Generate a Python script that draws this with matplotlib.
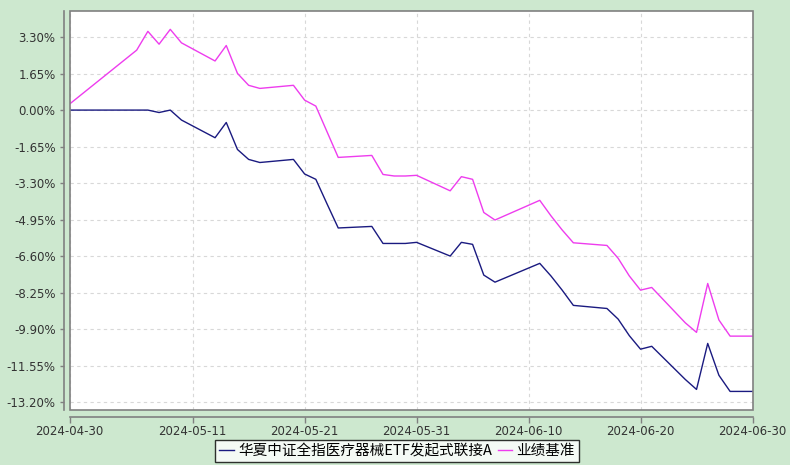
import pandas as pd
import matplotlib
matplotlib.use("Agg")
import matplotlib.pyplot as plt
import matplotlib.dates as mdates
from matplotlib.patches import Rectangle

plt.rcParams['font.family'] = ['DejaVu Sans', 'Noto Sans CJK SC']
plt.rcParams['axes.unicode_minus'] = False

dates = ['2024-04-30', '2024-05-06', '2024-05-07', '2024-05-08', '2024-05-09', '2024-05-10',
         '2024-05-13', '2024-05-14', '2024-05-15', '2024-05-16', '2024-05-17',
         '2024-05-20', '2024-05-21', '2024-05-22', '2024-05-23', '2024-05-24',
         '2024-05-27', '2024-05-28', '2024-05-29', '2024-05-30', '2024-05-31',
         '2024-06-03', '2024-06-04', '2024-06-05', '2024-06-06', '2024-06-07',
         '2024-06-11', '2024-06-12', '2024-06-13', '2024-06-14',
         '2024-06-17', '2024-06-18', '2024-06-19', '2024-06-20', '2024-06-21',
         '2024-06-24', '2024-06-25', '2024-06-26', '2024-06-27', '2024-06-28',
         '2024-06-30']

fund = [0.00, 0.00, 0.00, -0.11, 0.00, -0.45,
        -1.25, -0.56, -1.78, -2.23, -2.37,
        -2.23, -2.89, -3.13, -4.24, -5.33,
        -5.26, -6.03, -6.03, -6.03, -5.98,
        -6.60, -5.98, -6.07, -7.46, -7.78,
        -6.93, -7.50, -8.14, -8.83,
        -8.97, -9.45, -10.20, -10.81, -10.68,
        -12.18, -12.63, -10.55, -11.99, -12.72,
        -12.72]

bench = [0.27, 2.71, 3.56, 2.98, 3.65, 3.04,
         2.22, 2.92, 1.66, 1.12, 0.98,
         1.12, 0.45, 0.18, -0.98, -2.14,
         -2.05, -2.91, -2.98, -2.98, -2.95,
         -3.65, -3.01, -3.13, -4.63, -4.97,
         -4.08, -4.78, -5.42, -6.00,
         -6.12, -6.70, -7.50, -8.14, -8.02,
         -9.62, -10.05, -7.84, -9.49, -10.22,
         -10.22]

yticks = [3.30, 1.65, 0.00, -1.65, -3.30, -4.95, -6.60, -8.25, -9.90, -11.55, -13.20]
xticks = ['2024-04-30', '2024-05-11', '2024-05-21', '2024-05-31', '2024-06-10', '2024-06-20', '2024-06-30']

fund_name = "华夏中证全指医疗器械ETF发起式联接A"
bench_name = "业绩基准"

bg = '#cde8cf'
axis_gray = '#808080'
text_gray = '#333333'

x = pd.to_datetime(dates)

fig = plt.figure(figsize=(7.9, 4.65), dpi=100, facecolor=bg)
ax = fig.add_axes([69.5 / 790, 1 - 410 / 465, (752.5 - 69.5) / 790, (410 - 11) / 465])
ax.set_facecolor('white')

ax.plot(x, fund, color='#1a1a80', lw=1.0, label=fund_name, zorder=3)
ax.plot(x, bench, color='#ee3cee', lw=1.0, label=bench_name, zorder=3)

ax.set_xlim(pd.Timestamp('2024-04-30'), pd.Timestamp('2024-06-30'))
ax.set_ylim(-13.56, 4.48)

ax.set_yticks(yticks)
ax.set_yticklabels([f"{v:.2f}%" for v in yticks])
ax.set_xticks(pd.to_datetime(xticks))
ax.set_xticklabels(xticks)

ax.grid(True, color='#d8d8d8', lw=0.8, linestyle=(0, (3, 3)))
ax.set_axisbelow(True)

for s in ['top', 'right']:
    ax.spines[s].set_visible(False)
ax.spines['bottom'].set_position(('outward', 5))
ax.spines['left'].set_position(('outward', 4))
for s in ['bottom', 'left']:
    ax.spines[s].set_color(axis_gray)
    ax.spines[s].set_linewidth(1.2)

ax.add_patch(Rectangle((0, 0), 1, 1, transform=ax.transAxes, fill=False,
                       edgecolor=axis_gray, lw=1.2, clip_on=False, zorder=5))

ax.tick_params(axis='y', direction='out', length=3, width=1, color=axis_gray,
               labelsize=8.5, labelcolor=text_gray, pad=3)
ax.tick_params(axis='x', direction='out', length=4, width=1, color=axis_gray,
               labelsize=8.5, labelcolor=text_gray, pad=1.5)

leg = fig.legend(loc='center', bbox_to_anchor=(0.5026, 0.030), ncol=2,
                 frameon=True, fancybox=False, shadow=False,
                 handlelength=1.0, handletextpad=0.3, columnspacing=0.4,
                 borderpad=0.25, borderaxespad=0,
                 prop={'family': ['Noto Sans CJK SC', 'DejaVu Sans'], 'size': 10.5})
leg.get_frame().set_edgecolor('black')
leg.get_frame().set_linewidth(1.0)
leg.get_frame().set_facecolor('white')
for t in leg.get_texts():
    t.set_color('black')

fig.savefig('out.png', dpi=100, facecolor=bg)
